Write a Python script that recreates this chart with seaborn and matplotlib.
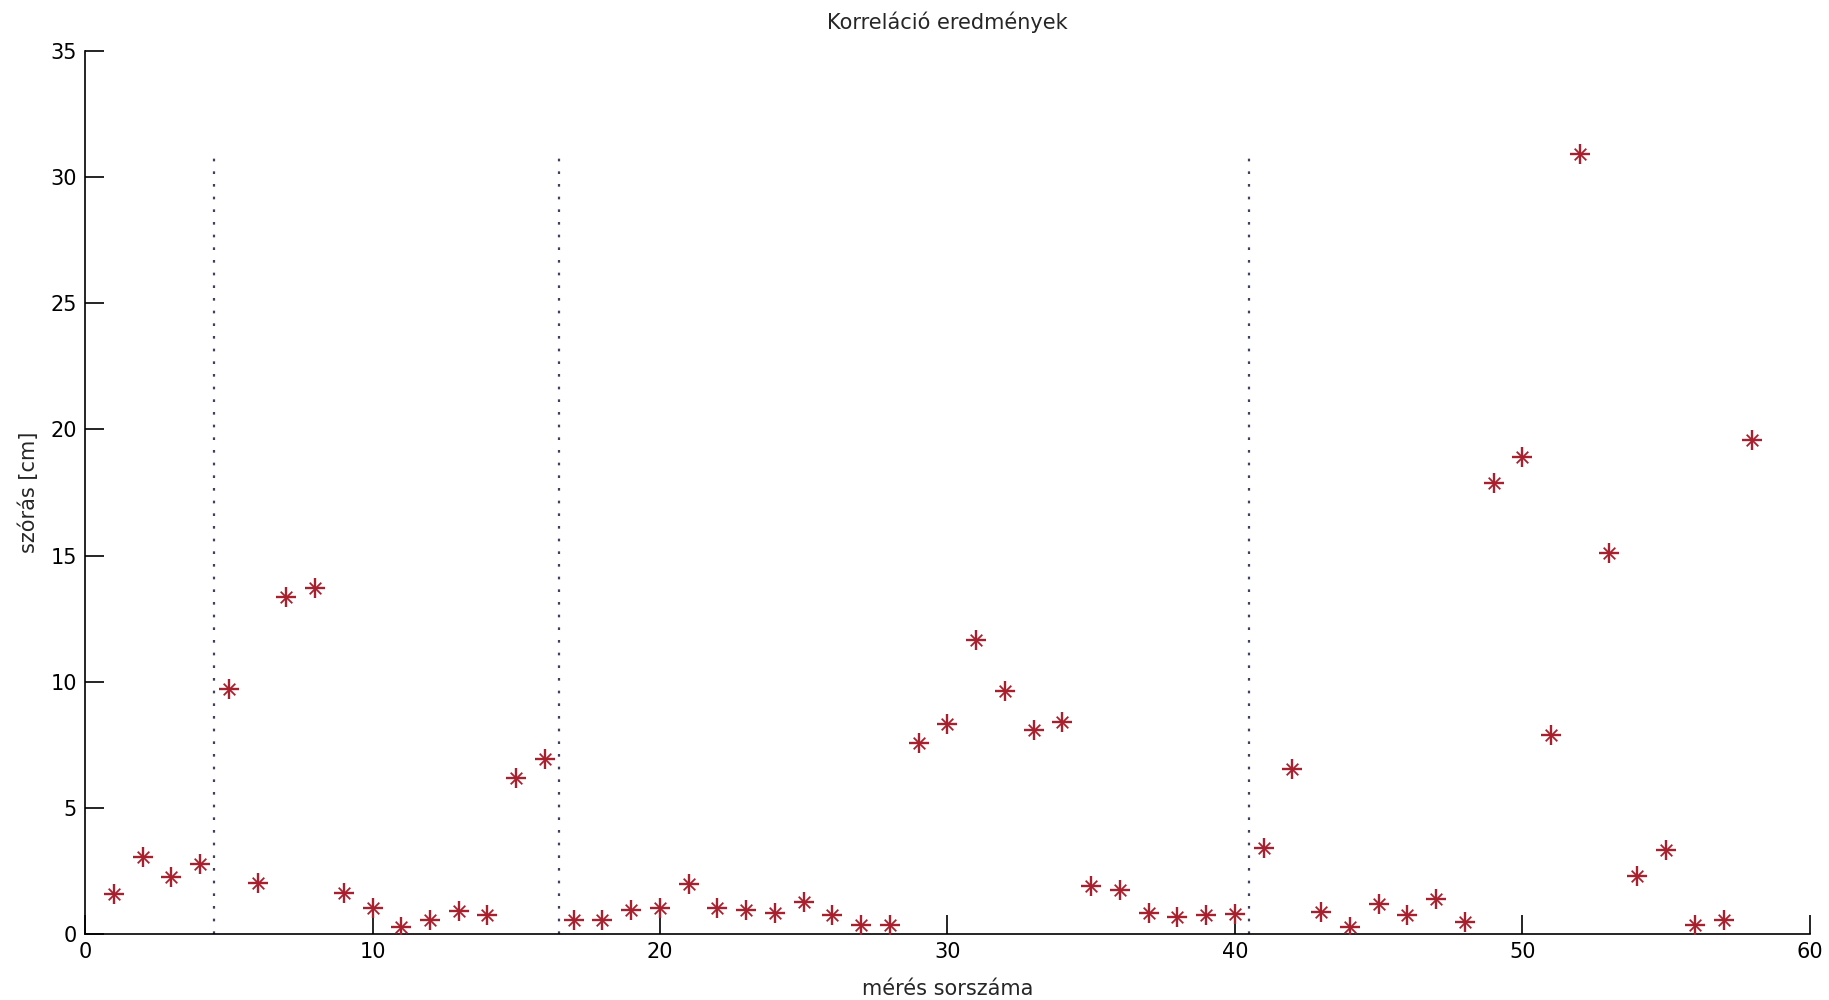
import matplotlib
matplotlib.use("Agg")
import matplotlib.pyplot as plt
import seaborn as sns
import pandas as pd

sns.set_theme(style="white")
plt.rcParams['font.family'] = ['DejaVu Sans']

meres = list(range(1, 59))
szoras = [1.6, 3.05, 2.27, 2.77, 9.7, 2.03, 13.36, 13.73, 1.62, 1.02,
          0.28, 0.55, 0.92, 0.74, 6.2, 6.93, 0.55, 0.55, 0.97, 1.02,
          1.99, 1.02, 0.97, 0.83, 1.25, 0.74, 0.37, 0.37, 7.58, 8.32,
          11.65, 9.62, 8.09, 8.41, 1.9, 1.76, 0.83, 0.69, 0.74, 0.79,
          3.42, 6.56, 0.88, 0.28, 1.2, 0.74, 1.39, 0.46, 17.89, 18.9,
          7.9, 30.93, 15.12, 2.31, 3.33, 0.37, 0.55, 19.6]
hatarok = [4.5, 16.5, 40.5]
hatar_magassag = 31.0
xticks = [0, 10, 20, 30, 40, 50, 60]
yticks = [0, 5, 10, 15, 20, 25, 30, 35]

df = pd.DataFrame({"x": meres, "y": szoras})

fig = plt.figure(figsize=(18.29, 10.0), dpi=100)
ax = fig.add_axes([0.0465, 0.066, 0.943, 0.883])

color = "#A8202E"
ax.vlines(hatarok, 0, hatar_magassag, colors="#404060",
          linestyles=(0, (1.2, 4.5)), linewidth=1.6, zorder=2)

sns.scatterplot(data=df, x="x", y="y", ax=ax, marker="+", s=190,
                color=color, linewidth=1.7, zorder=3)
sns.scatterplot(data=df, x="x", y="y", ax=ax, marker="x", s=70,
                color=color, linewidth=1.3, zorder=3)

ax.set_xlim(0, 60)
ax.set_ylim(0, 35)
ax.set_xticks(xticks)
ax.set_yticks(yticks)
ax.set_xticklabels([str(t) for t in xticks])
ax.set_yticklabels([str(t) for t in yticks])
sns.despine(ax=ax, top=True, right=True)
for s in ["left", "bottom"]:
    ax.spines[s].set_color("black")
    ax.spines[s].set_linewidth(1.2)
ax.tick_params(axis="both", direction="in", length=14, width=1.2,
               colors="black", labelsize=15, pad=6, left=True, bottom=True)
ax.tick_params(axis="x", pad=6)

ax.set_title("Korreláció eredmények", fontsize=15, pad=16)
ax.set_xlabel("mérés sorszáma", fontsize=15, labelpad=12)
ax.set_ylabel("szórás [cm]", fontsize=15, labelpad=8)

fig.savefig("out.png", dpi=100, facecolor="white")
